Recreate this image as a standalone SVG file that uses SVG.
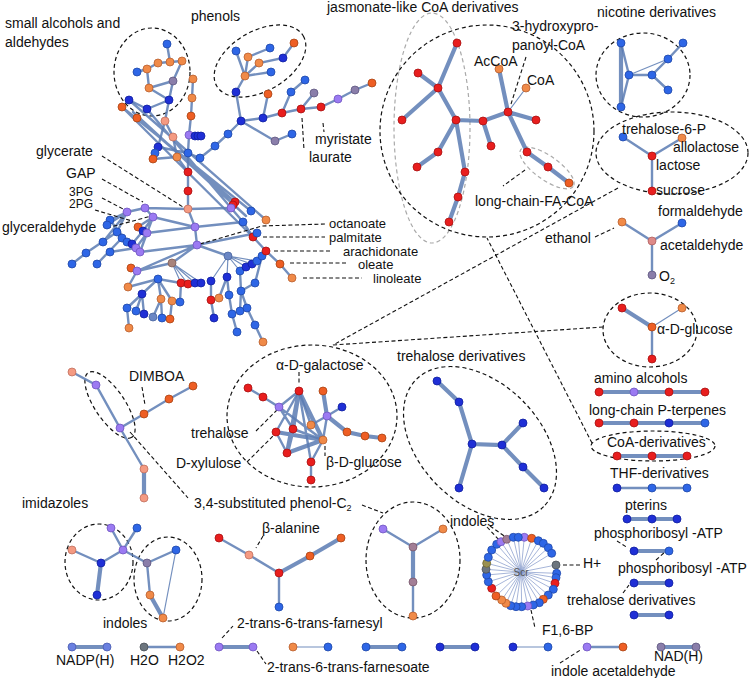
<svg xmlns="http://www.w3.org/2000/svg" width="750" height="678" viewBox="0 0 750 678">
<style>
.e{fill:none;stroke:#5a7bb3;stroke-opacity:.85;stroke-width:2.4;stroke-linecap:round}
.k{stroke-width:4.2}
.t{stroke-width:1.2}
.sp{fill:none;stroke:#7f95c8;stroke-width:.7}
.ld{fill:none;stroke:#111;stroke-width:1.1;stroke-dasharray:4 2.5}
.el{fill:none;stroke:#111;stroke-width:1.2;stroke-dasharray:4 3}
.eg{fill:none;stroke:#aaa;stroke-width:1.2;stroke-dasharray:4 3}
circle{stroke-width:.8;r:4px}
.r{fill:#e81e1e;stroke:#a81212}
.o{fill:#f08a48;stroke:#b86030}
.or{fill:#ee5e24;stroke:#a84414}
.s{fill:#f49a82;stroke:#c07060}
.b{fill:#2e66e6;stroke:#2048a8}
.d{fill:#1f2fd6;stroke:#1020a0}
.p{fill:#9b7af2;stroke:#7055c0}
.q{fill:#8a7eaa;stroke:#605880}
.m{fill:#a27e96;stroke:#78586c}
.g{fill:#6c757e;stroke:#4a5058}
.n{fill:#a8847c;stroke:#806058}
.u{fill:#6a86c4;stroke:#4a66a0}
.v{fill:#6a80e0;stroke:#4a5cb0}
.w{fill:#de8a88;stroke:#b06060}
.y{fill:#9a9050;stroke:#706830}
text{font-family:"Liberation Sans",Arial,sans-serif;font-size:14px;fill:#111}
.sm{font-size:10px;fill:#555}
.tg{font-size:12px}
.fa{font-size:13px}
</style>
<rect width="750" height="678" fill="#fff"/>

<g id="groupings">
<ellipse class="el" cx="152" cy="72" rx="38" ry="44"/>
<ellipse class="el" cx="260" cy="61" rx="50" ry="30" transform="rotate(-30 260 61)"/>
<ellipse class="eg" cx="432" cy="128" rx="38" ry="115"/>
<ellipse class="el" cx="487" cy="131" rx="107" ry="106"/>
<ellipse class="eg" cx="547" cy="168" rx="32" ry="12" transform="rotate(35 547 168)"/>
<ellipse class="el" cx="643" cy="75" rx="47" ry="42"/>
<ellipse class="el" cx="672" cy="153" rx="76" ry="41"/>
<ellipse class="el" cx="650" cy="330" rx="47" ry="37"/>
<ellipse class="el" cx="653" cy="446" rx="62" ry="15"/>
<ellipse class="el" cx="312" cy="416" rx="85" ry="71"/>
<ellipse class="el" cx="480" cy="443" rx="90" ry="60" transform="rotate(45 480 443)"/>
<ellipse class="el" cx="110" cy="405" rx="39" ry="15" transform="rotate(56 110 405)"/>
<ellipse class="el" cx="99" cy="562" rx="34" ry="38"/>
<ellipse class="el" cx="168" cy="579" rx="34" ry="42"/>
<ellipse class="el" cx="413" cy="560" rx="47" ry="58"/>
</g>

<g id="connectors">
<path class="e" d="M129,100L266,220M122,107L251,211M137,118L235,202M147,109L243,222M122,107L253,237M133,112L246,216" stroke-width="3"/>
<path class="e" d="M167,44L170,62M170,62L182,61M158,63L170,62M147,69L158,63M137,72L147,69M147,69L149,88M149,88L173,81M173,81L182,61M173,81L169,100M149,88L169,100M129,100L147,109M147,109L169,100M169,100L165,121
M193,79L192,98L191,116L189,135L188,153L188,172L188,191L188,209M165,121L173,137L177,157L188,172M189,135L201,136M158,147L188,153M153,159L177,157M165,121L158,147M155,153L153,159M188,153L200,158L215,146L228,134L241,121M145,208L188,209L231,208M188,209L195,227L197,245
M245,76L236,51M245,76L248,57L270,48M245,76L259,63L283,58L294,43M245,76L271,72M245,76L236,92L241,121M241,121L263,118L282,113L301,109L321,107L338,99L355,90L372,83M263,118L268,94M282,113L291,92L305,80M301,109L314,93M241,121L275,141L292,134
M127,212L145,208M127,212L110,220M127,212L107,225M127,212L117,232M127,212L103,242M145,208L153,217M153,217L138,227M153,217L143,231M153,217L195,227M153,217L147,233M117,232L86,253L72,264M122,238L97,264M110,220L127,242M143,231L132,244M147,233L136,248M147,233L140,252M110,252L136,248M147,233L195,227M140,252L197,245M137,271L197,245M131,268L137,271M137,271L128,287M137,271L172,263M197,245L172,263M197,245L228,256M195,227L243,222M197,245L257,233
M128,287L158,279L181,283M158,279L142,294M158,279L161,299M158,279L172,301M181,283L180,302M142,294L127,308M142,294L136,311M142,294L144,314M127,308L129,328M161,299L153,317M161,299L162,318M172,301L170,319
M211,281L211,300L214,318M227,277L219,298M227,277L229,295L232,314L237,332M240,271L241,291M241,291L240,311M241,291L247,308L255,325L263,342M262,256L255,283L241,291M243,222L253,237L266,251L280,264L292,278M257,233L253,237M262,256L266,251
M623,137L652,156L682,138M652,156L652,191M622,222L652,241L682,223M652,241L652,275M652,327L652,359M617,488L687,488M144,647L180,647M587,647L623,647
M621,43L629,75L621,107M629,75L652,75L668,59L683,43M652,75L668,90
M248,388L263,397L279,407L299,391M279,407L293,429M279,407L323,440M299,391L311,462M299,391L311,425M293,429L323,440M311,462L323,440M311,462L311,480M311,425L327,416M323,440L327,416M327,416L342,407M276,432L299,391M276,432L287,453
M219,538L249,555L279,573M279,573L279,607M383,529L413,547M443,529L413,547M413,582L413,616M111,528L123,550M137,528L123,550M72,550L101,563M123,550L101,563M123,550L147,563M147,563L176,550M147,563L150,595M72,372L96,385L120,428L144,414L169,399L193,386M120,428L144,469"/>
<path class="e t" d="M172,263L181,283M172,263L188,284M172,263L195,283M172,263L201,283M228,256L211,281M228,256L227,277M228,256L240,271M228,256L246,267M228,256L252,264M228,256L257,261M508,112L526,88M629,75L668,59M682,308L652,327M293,647L328,647M513,647L548,647M176,550L163,618"/>
<path class="e k" d="M457,43L438,88M418,73L438,88M438,88L402,120M438,88L456,120M456,120L438,152L417,167M456,120L465,172L458,197L449,222M456,120L483,121L508,112M483,121L491,146M508,112L499,69M508,112L536,120M508,112L527,152L548,167L569,183
M621,43L621,107M622,308L652,327M599,392L705,392M599,423L705,423M617,456L687,456M627,519L677,519M634,551L669,551M634,583L669,583M634,615L669,615
M72,647L107,647M219,647L253,647M366,647L402,647M440,647L475,647M661,647L696,647
M437,381L459,402L472,444L502,445L523,423M502,445L523,467L544,488M472,444L459,488
M299,391L293,429M299,391L287,453M299,391L323,440M293,429L287,453M287,453L323,440M327,416L323,391M327,416L347,432L365,436L382,438M276,432L323,440
M279,573L310,556L341,538M413,547L413,582M101,563L97,595M150,595L163,618M144,469L144,498"/>
<path class="sp" d="M521,572L524.3,537.3M521,572L531.7,538.3M521,572L538.3,540.7M521,572L543.3,543.3M521,572L548.3,547.7M521,572L551.7,553.3M521,572L556,565M521,572L556.7,573.3M521,572L556,577.7M521,572L555,583.3M521,572L553.3,589.3M521,572L548.3,595M521,572L543.3,599.3M521,572L539.3,602.7M521,572L533.3,605M521,572L527.7,606M521,572L521.7,606.7M521,572L516,606.7M521,572L510.7,605.7M521,572L506,603.3M521,572L501.7,600M521,572L496,596M521,572L491.7,588.3M521,572L488.3,581.7M521,572L486.7,575M521,572L486,569.3M521,572L486.7,563.3M521,572L488.3,557.3M521,572L491.7,550M521,572L496.7,544.3M521,572L501,541.7M521,572L506.7,539.3M521,572L513.3,537.3M521,572L518.3,537.3"/>
</g>

<g id="leaders">
<path class="ld" d="M102,156L183,207M102,179L143,202M102,198L125,210M95,210L132,221M107,228L155,215M323,123L324,132M302,118L304,150M200,244L262,226L325,224M263,237L325,237M274,251L330,251M290,263L348,263M303,278L362,278M526,57L511,104M525,170L503,186M595,237L614,228M618,188L333,345M603,327L333,345M592,443L487,238M299,372L299,384M256,431L277,410M247,462L274,435M325,446L325,456M142,387L145,405M130,432L188,498M362,505L383,513M263,536L256,548M222,638L233,626M257,651L266,664M487,527L500,541M490,526L507,538M563,565L580,565M617,541L628,548M656,560L665,552M623,593L629,585M531,610L535,628M560,663L582,649"/>
</g>

<g id="n-small-alcohols">
<circle class="b" cx="167" cy="44"/><circle class="o" cx="170" cy="62"/><circle class="o" cx="182" cy="61"/><circle class="o" cx="158" cy="63"/><circle class="o" cx="147" cy="69"/><circle class="b" cx="137" cy="72"/><circle class="q" cx="173" cy="81"/><circle class="o" cx="149" cy="88"/><circle class="d" cx="129" cy="100" r="4.5"/><circle class="d" cx="169" cy="100" r="4.5"/><circle class="d" cx="147" cy="109"/>
</g>
<g id="n-central">
<circle class="or" cx="122" cy="107"/><circle class="or" cx="137" cy="118"/><circle class="o" cx="193" cy="79"/><circle class="o" cx="192" cy="98"/><circle class="or" cx="191" cy="116"/><circle class="s" cx="165" cy="121" r="4.5"/><circle class="s" cx="173" cy="137" r="5.5"/><circle class="p" cx="189" cy="135" r="4.5"/><circle class="d" cx="195" cy="136" r="3.5"/><circle class="d" cx="198" cy="136" r="3.5"/><circle class="d" cx="201" cy="136" r="3.5"/><circle class="d" cx="158" cy="147"/><circle class="b" cx="155" cy="153"/><circle class="or" cx="153" cy="159"/><circle class="o" cx="177" cy="157" r="4.5"/><circle class="b" cx="188" cy="153"/><circle class="b" cx="200" cy="158"/><circle class="b" cx="215" cy="146"/><circle class="b" cx="228" cy="134"/><circle class="r" cx="188" cy="172" r="4.5"/><circle class="r" cx="188" cy="191" r="4.5"/><circle class="s" cx="188" cy="209" r="5.5"/><circle class="r" cx="235" cy="202" r="5"/><circle class="r" cx="233" cy="205" r="4.5"/><circle class="p" cx="231" cy="208" r="5"/>
</g>
<g id="n-phenols">
<circle class="b" cx="236" cy="51"/><circle class="o" cx="248" cy="57"/><circle class="b" cx="270" cy="48"/><circle class="o" cx="259" cy="63"/><circle class="d" cx="283" cy="58"/><circle class="or" cx="294" cy="43" r="4.5"/><circle class="b" cx="271" cy="72"/><circle class="o" cx="245" cy="76" r="4.5"/><circle class="d" cx="236" cy="92"/><circle class="d" cx="241" cy="121" r="5.5"/><circle class="d" cx="263" cy="118" r="5"/><circle class="r" cx="282" cy="113" r="4.5"/><circle class="r" cx="301" cy="109" r="4.5"/><circle class="r" cx="321" cy="107" r="4.5"/><circle class="p" cx="338" cy="99" r="6"/><circle class="q" cx="355" cy="90" r="4.5"/><circle class="or" cx="372" cy="83"/><circle class="or" cx="268" cy="94"/><circle class="b" cx="291" cy="92" r="4.5"/><circle class="b" cx="305" cy="80" r="4.5"/><circle class="q" cx="314" cy="93" r="4.5"/><circle class="q" cx="275" cy="141" r="5"/><circle class="b" cx="292" cy="134" r="4.5"/>
</g>
<g id="n-lower">
<circle class="p" cx="127" cy="212" r="7.5"/><circle class="p" cx="145" cy="208" r="6"/><circle class="p" cx="153" cy="217" r="5.5"/><circle class="b" cx="110" cy="220" r="4.5"/><circle class="b" cx="107" cy="225"/><circle class="b" cx="117" cy="232"/><circle class="b" cx="122" cy="238"/><circle class="or" cx="138" cy="227"/><circle class="d" cx="143" cy="231"/><circle class="p" cx="147" cy="233" r="5"/><circle class="p" cx="195" cy="227" r="5.5"/><circle class="p" cx="197" cy="245" r="6"/><circle class="b" cx="103" cy="242"/><circle class="b" cx="110" cy="252"/><circle class="b" cx="127" cy="242"/><circle class="d" cx="132" cy="244"/><circle class="p" cx="136" cy="248" r="5"/><circle class="p" cx="140" cy="252" r="5"/><circle class="b" cx="86" cy="253"/><circle class="b" cx="72" cy="264"/><circle class="b" cx="97" cy="264"/><circle class="or" cx="131" cy="268"/><circle class="p" cx="137" cy="271" r="5"/><circle class="o" cx="128" cy="287"/><circle class="n" cx="172" cy="263" r="5.5"/><circle class="u" cx="228" cy="256" r="5"/><circle class="b" cx="158" cy="279" r="4.5"/><circle class="r" cx="181" cy="283" r="5"/><circle class="r" cx="188" cy="284" r="5"/><circle class="d" cx="195" cy="283"/><circle class="d" cx="201" cy="283"/><circle class="d" cx="211" cy="281"/><circle class="d" cx="227" cy="277"/><circle class="b" cx="240" cy="271"/><circle class="d" cx="246" cy="267"/><circle class="d" cx="252" cy="264"/><circle class="b" cx="257" cy="261"/><circle class="b" cx="262" cy="256"/><circle class="d" cx="142" cy="294"/><circle class="o" cx="161" cy="299" r="5"/><circle class="o" cx="172" cy="301" r="5"/><circle class="b" cx="180" cy="302"/><circle class="r" cx="211" cy="300" r="5"/><circle class="o" cx="219" cy="298" r="4.5"/><circle class="b" cx="229" cy="295"/><circle class="b" cx="241" cy="291"/><circle class="b" cx="127" cy="308"/><circle class="b" cx="136" cy="311"/><circle class="d" cx="144" cy="314"/><circle class="u" cx="153" cy="317"/><circle class="b" cx="162" cy="318"/><circle class="or" cx="170" cy="319"/><circle class="o" cx="129" cy="328" r="4.5"/><circle class="d" cx="214" cy="318"/><circle class="b" cx="232" cy="314"/><circle class="b" cx="240" cy="311"/><circle class="b" cx="247" cy="308"/><circle class="b" cx="237" cy="332"/><circle class="b" cx="255" cy="325"/><circle class="o" cx="263" cy="342"/><circle class="b" cx="255" cy="283"/><circle class="b" cx="251" cy="211" r="4.5"/><circle class="b" cx="243" cy="222" r="4.5"/><circle class="o" cx="266" cy="220"/><circle class="r" cx="253" cy="237" r="5"/><circle class="b" cx="257" cy="233"/><circle class="r" cx="266" cy="251" r="5"/><circle class="or" cx="280" cy="264"/><circle class="o" cx="292" cy="278"/>
</g>
<g id="n-coa-derivatives">
<circle class="r" cx="457" cy="43" r="5"/><circle class="r" cx="418" cy="73" r="5"/><circle class="r" cx="438" cy="88" r="5.5"/><circle class="r" cx="402" cy="120" r="5"/><circle class="r" cx="456" cy="120" r="5.5"/><circle class="r" cx="438" cy="152" r="5"/><circle class="r" cx="417" cy="167" r="5"/><circle class="r" cx="465" cy="172" r="5"/><circle class="r" cx="458" cy="197" r="5"/><circle class="r" cx="449" cy="222" r="5"/><circle class="r" cx="483" cy="121" r="5"/><circle class="r" cx="491" cy="146" r="5"/><circle class="r" cx="508" cy="112" r="5"/><circle class="o" cx="499" cy="69" r="4.5"/><circle class="o" cx="526" cy="88"/><circle class="r" cx="536" cy="120" r="5"/><circle class="r" cx="527" cy="152" r="5"/><circle class="r" cx="548" cy="167" r="5"/><circle class="or" cx="569" cy="183"/>
</g>
<g id="n-nicotine">
<circle class="b" cx="621" cy="43" r="4.5"/><circle class="b" cx="683" cy="43" r="4.5"/><circle class="b" cx="668" cy="59" r="4.5"/><circle class="b" cx="629" cy="75" r="4.5"/><circle class="b" cx="652" cy="75" r="4.5"/><circle class="b" cx="668" cy="90" r="4.5"/><circle class="b" cx="621" cy="107" r="4.5"/>
</g>
<g id="n-trehalose-6-p">
<circle class="b" cx="623" cy="137" r="5.5"/><circle class="o" cx="682" cy="138"/><circle class="r" cx="652" cy="156" r="5"/><circle class="r" cx="652" cy="191" r="5"/>
</g>
<g id="n-acetaldehyde">
<circle class="o" cx="622" cy="222" r="7.5"/><circle class="b" cx="682" cy="223"/><circle class="w" cx="652" cy="241" r="8"/><circle class="q" cx="652" cy="275" r="5.5"/>
</g>
<g id="n-glucose">
<circle class="r" cx="622" cy="308" r="4.5"/><circle class="o" cx="682" cy="308"/><circle class="or" cx="652" cy="327" r="5"/><circle class="r" cx="652" cy="359" r="4.5"/>
</g>
<g id="n-rows">
<circle class="r" cx="599" cy="392" r="4.5"/><circle class="p" cx="634" cy="392" r="6.5"/><circle class="r" cx="669" cy="392" r="4.5"/><circle class="r" cx="705" cy="392" r="4.5"/>
<circle class="r" cx="599" cy="423" r="4.5"/><circle class="r" cx="634" cy="423" r="4.5"/><circle class="d" cx="669" cy="423" r="4.5"/><circle class="b" cx="705" cy="423" r="3.5"/>
<circle class="r" cx="617" cy="456" r="4.5"/><circle class="r" cx="652" cy="456" r="4.5"/><circle class="r" cx="687" cy="456" r="4.5"/>
<circle class="d" cx="617" cy="488" r="4.5"/><circle class="b" cx="652" cy="488" r="4.5"/><circle class="b" cx="687" cy="488"/>
<circle class="d" cx="627" cy="519"/><circle class="d" cx="652" cy="519"/><circle class="d" cx="677" cy="519"/>
<circle class="d" cx="634" cy="551" r="5"/><circle class="b" cx="669" cy="551" r="4.5"/>
<circle class="d" cx="634" cy="583" r="5"/><circle class="d" cx="669" cy="583" r="5"/>
<circle class="d" cx="634" cy="615" r="5"/><circle class="d" cx="669" cy="615" r="5"/>
</g>
<g id="n-trehalose-derivatives">
<circle class="d" cx="437" cy="381" r="5.5"/><circle class="d" cx="459" cy="402" r="4.5"/><circle class="d" cx="472" cy="444" r="5.5"/><circle class="d" cx="523" cy="423" r="4.5"/><circle class="d" cx="502" cy="445" r="5.5"/><circle class="d" cx="523" cy="467" r="4.5"/><circle class="d" cx="544" cy="488" r="5"/><circle class="d" cx="459" cy="488" r="5"/>
</g>
<g id="n-galactose">
<circle class="r" cx="248" cy="388" r="5"/><circle class="r" cx="263" cy="397" r="5"/><circle class="p" cx="279" cy="407" r="5"/><circle class="r" cx="299" cy="391" r="6"/><circle class="or" cx="323" cy="391" r="4"/><circle class="d" cx="342" cy="407" r="4"/><circle class="p" cx="327" cy="416" r="5"/><circle class="o" cx="311" cy="425" r="6"/><circle class="r" cx="293" cy="429" r="6"/><circle class="r" cx="276" cy="432" r="5"/><circle class="o" cx="323" cy="440" r="7"/><circle class="or" cx="347" cy="432" r="4.5"/><circle class="or" cx="365" cy="436" r="4.5"/><circle class="or" cx="382" cy="438" r="4.5"/><circle class="r" cx="287" cy="453" r="5"/><circle class="r" cx="311" cy="462" r="5"/><circle class="r" cx="311" cy="480" r="5"/>
</g>
<g id="n-dimboa">
<circle class="s" cx="72" cy="372"/><circle class="p" cx="96" cy="385" r="6.5"/><circle class="p" cx="120" cy="428" r="6.5"/><circle class="or" cx="144" cy="414"/><circle class="or" cx="169" cy="399"/><circle class="or" cx="193" cy="386"/><circle class="s" cx="144" cy="469"/><circle class="s" cx="144" cy="498"/>
</g>
<g id="n-beta-alanine">
<circle class="r" cx="219" cy="538" r="4.5"/><circle class="s" cx="249" cy="555" r="7"/><circle class="r" cx="279" cy="573" r="5"/><circle class="or" cx="310" cy="556"/><circle class="or" cx="341" cy="538"/><circle class="b" cx="279" cy="607" r="4.5"/>
</g>
<g id="n-phenol-c2">
<circle class="p" cx="383" cy="529" r="6.5"/><circle class="o" cx="443" cy="529"/><circle class="m" cx="413" cy="547" r="6"/><circle class="m" cx="413" cy="582" r="6"/><circle class="o" cx="413" cy="616"/>
</g>
<g id="n-imidazoles">
<circle class="p" cx="111" cy="528" r="6.5"/><circle class="b" cx="137" cy="528"/><circle class="s" cx="72" cy="550" r="5"/><circle class="p" cx="123" cy="550" r="7"/><circle class="d" cx="101" cy="563" r="5.5"/><circle class="d" cx="97" cy="595" r="5"/>
</g>
<g id="n-indoles">
<circle class="q" cx="147" cy="563" r="5"/><circle class="b" cx="176" cy="550"/><circle class="o" cx="150" cy="595"/><circle class="o" cx="163" cy="618"/>
</g>
<g id="n-scr-ring">
<circle class="p" cx="524.3" cy="537.3" r="5"/><circle class="or" cx="531.7" cy="538.3"/><circle class="b" cx="538.3" cy="540.7"/><circle class="b" cx="543.3" cy="543.3"/><circle class="b" cx="548.3" cy="547.7"/><circle class="b" cx="551.7" cy="553.3"/><circle class="g" cx="556" cy="565" r="7"/><circle class="b" cx="556.7" cy="573.3"/><circle class="b" cx="556" cy="577.7"/><circle class="r" cx="555" cy="583.3"/><circle class="b" cx="553.3" cy="589.3"/><circle class="b" cx="548.3" cy="595"/><circle class="or" cx="543.3" cy="599.3"/><circle class="b" cx="539.3" cy="602.7"/><circle class="b" cx="533.3" cy="605"/><circle class="p" cx="527.7" cy="606" r="4.5"/><circle class="b" cx="521.7" cy="606.7"/><circle class="b" cx="516" cy="606.7"/><circle class="b" cx="510.7" cy="605.7"/><circle class="o" cx="506" cy="603.3"/><circle class="o" cx="501.7" cy="600"/><circle class="or" cx="496" cy="596"/><circle class="r" cx="491.7" cy="588.3"/><circle class="b" cx="488.3" cy="581.7"/><circle class="b" cx="486.7" cy="575"/><circle class="g" cx="486" cy="569.3"/><circle class="y" cx="486.7" cy="563.3"/><circle class="b" cx="488.3" cy="557.3"/><circle class="b" cx="491.7" cy="550"/><circle class="b" cx="496.7" cy="544.3"/><circle class="p" cx="501" cy="541.7" r="5"/><circle class="m" cx="506.7" cy="539.3" r="4.5"/><circle class="b" cx="513.3" cy="537.3"/><circle class="b" cx="518.3" cy="537.3"/>
</g>
<g id="n-pairs">
<circle class="v" cx="72" cy="647" r="5.5"/><circle class="v" cx="107" cy="647" r="5.5"/><circle class="g" cx="144" cy="647" r="7"/><circle class="o" cx="180" cy="647" r="6"/><circle class="p" cx="219" cy="647" r="6.5"/><circle class="p" cx="253" cy="647" r="6.5"/><circle class="o" cx="293" cy="647"/><circle class="b" cx="328" cy="647" r="4.5"/><circle class="b" cx="366" cy="647" r="4.5"/><circle class="b" cx="402" cy="647" r="4.5"/><circle class="d" cx="440" cy="647"/><circle class="d" cx="475" cy="647"/><circle class="d" cx="513" cy="647"/><circle class="b" cx="548" cy="647"/><circle class="p" cx="587" cy="647" r="5"/><circle class="or" cx="623" cy="647"/><circle class="q" cx="661" cy="647" r="8"/><circle class="q" cx="696" cy="647" r="8"/>
</g>

<g id="labels">
<text x="5" y="28">small alcohols and</text>
<text x="5" y="47">aldehydes</text>
<text x="191" y="21">phenols</text>
<text x="327" y="12">jasmonate-like CoA derivatives</text>
<text x="597" y="17">nicotine derivatives</text>
<text x="512" y="31">3-hydroxypro-</text>
<text x="512" y="50">panoyl-CoA</text>
<text x="474" y="66">AcCoA</text>
<text x="527" y="85">CoA</text>
<text x="315" y="144">myristate</text>
<text x="309" y="162">laurate</text>
<text x="36" y="156">glycerate</text>
<text x="66" y="178">GAP</text>
<text class="tg" x="69" y="195.5">3PG</text>
<text class="tg" x="69" y="208">2PG</text>
<text x="2" y="232">glyceraldehyde</text>
<text x="622" y="134">trehalose-6-P</text>
<text x="673" y="152">allolactose</text>
<text x="656" y="170">lactose</text>
<text x="656" y="195">sucrose</text>
<text x="475" y="206">long-chain-FA-CoA</text>
<text x="658" y="216">formaldehyde</text>
<text class="fa" x="329" y="228">octanoate</text>
<text class="fa" x="329" y="242">palmitate</text>
<text class="fa" x="343" y="255.5">arachidonate</text>
<text class="fa" x="358" y="269">oleate</text>
<text class="fa" x="373" y="283">linoleate</text>
<text x="545" y="243">ethanol</text>
<text x="660" y="250">acetaldehyde</text>
<text x="659" y="281">O<tspan font-size="9" dy="3">2</tspan></text>
<text x="657" y="334">α-D-glucose</text>
<text x="397" y="361">trehalose derivatives</text>
<text x="276" y="370">α-D-galactose</text>
<text x="129" y="381">DIMBOA</text>
<text x="594" y="383">amino alcohols</text>
<text x="589" y="415">long-chain P-terpenes</text>
<text x="191" y="438">trehalose</text>
<text x="607" y="447">CoA-derivatives</text>
<text x="176" y="468">D-xylulose</text>
<text x="326" y="467">β-D-glucose</text>
<text x="610" y="478">THF-derivatives</text>
<text x="22" y="508">imidazoles</text>
<text x="194" y="508">3,4-substituted phenol-C<tspan font-size="9" dy="3">2</tspan></text>
<text x="625" y="510">pterins</text>
<text x="450" y="526">indoles</text>
<text x="262" y="533">β-alanine</text>
<text x="594" y="538">phosphoribosyl -ATP</text>
<text x="583" y="568">H+</text>
<text x="618" y="573">phosphoribosyl -ATP</text>
<text x="567" y="605">trehalose derivatives</text>
<text x="103" y="628">indoles</text>
<text x="237" y="628">2-trans-6-trans-farnesyl</text>
<text x="542" y="635">F1,6-BP</text>
<text x="56" y="665">NADP(H)</text>
<text x="130" y="665">H2O</text>
<text x="168" y="665">H2O2</text>
<text x="654" y="661">NAD(H)</text>
<text x="267" y="672">2-trans-6-trans-farnesoate</text>
<text x="551" y="676">indole acetaldehyde</text>
<text class="sm" x="521" y="576" text-anchor="middle">Scr</text>
</g>
</svg>
